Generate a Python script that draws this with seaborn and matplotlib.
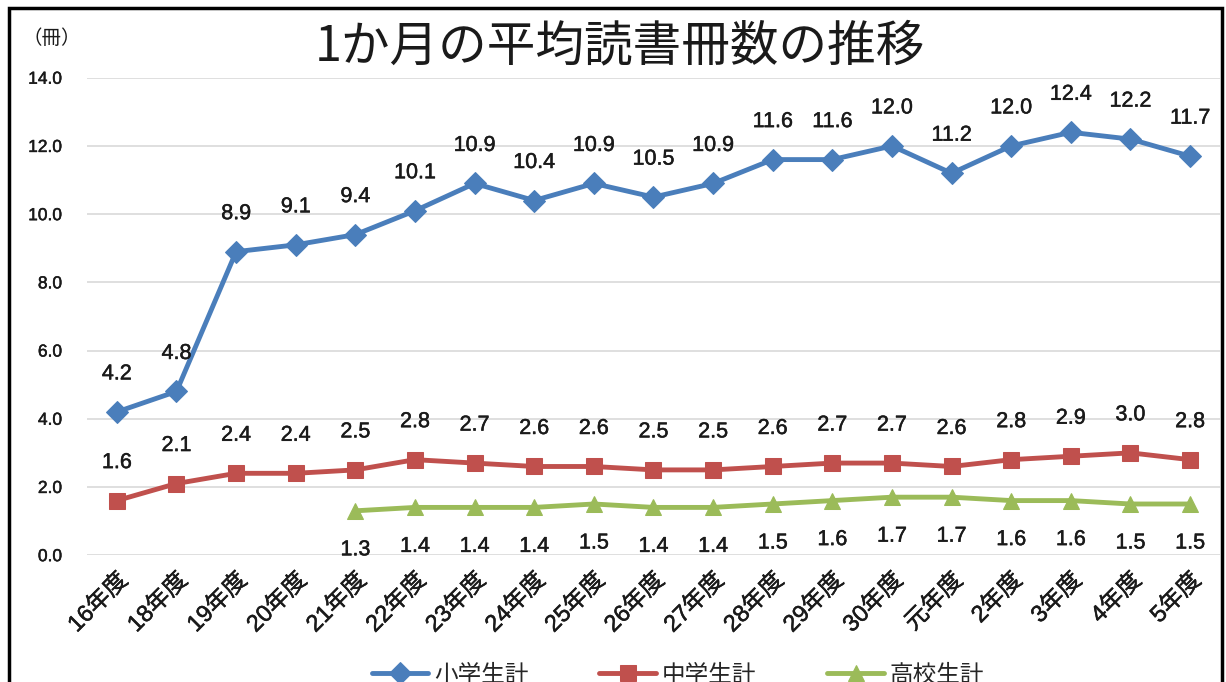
import numpy as np
import pandas as pd
import matplotlib
matplotlib.use("Agg")
import matplotlib.pyplot as plt
import matplotlib.patheffects as pe
import seaborn as sns
from matplotlib.patches import Rectangle

# Data
years = ["16年度", "18年度", "19年度", "20年度", "21年度", "22年度", "23年度", "24年度",
         "25年度", "26年度", "27年度", "28年度", "29年度", "30年度", "元年度", "2年度",
         "3年度", "4年度", "5年度"]
elementary = [4.2, 4.8, 8.9, 9.1, 9.4, 10.1, 10.9, 10.4, 10.9, 10.5, 10.9, 11.6, 11.6,
              12.0, 11.2, 12.0, 12.4, 12.2, 11.7]
junior_high = [1.6, 2.1, 2.4, 2.4, 2.5, 2.8, 2.7, 2.6, 2.6, 2.5, 2.5, 2.6, 2.7,
               2.7, 2.6, 2.8, 2.9, 3.0, 2.8]
high_school = [np.nan, np.nan, np.nan, np.nan, 1.3, 1.4, 1.4, 1.4, 1.5, 1.4, 1.4, 1.5,
               1.6, 1.7, 1.7, 1.6, 1.6, 1.5, 1.5]
series_names = ["小学生計", "中学生計", "高校生計"]

sns.set_style("white")
plt.rcParams['font.family'] = ['Noto Sans CJK JP', 'DejaVu Sans']
num_font = ['Liberation Sans', 'Noto Sans CJK JP']
ink = "#1a1a1a"
thick = [pe.withStroke(linewidth=0.35, foreground=ink)]

df = pd.DataFrame({"year": years, "x": range(len(years)),
                   series_names[0]: elementary, series_names[1]: junior_high,
                   series_names[2]: high_school})

fig = plt.figure(figsize=(12.26, 6.82), dpi=100)
ax = fig.add_axes([0.071, 0.186, 0.924, 0.700])

styles = [
    (series_names[0], "#4a7ebb", "D", 11, 38),
    (series_names[1], "#c0504d", "s", 11, 38),
    (series_names[2], "#9bbb59", "^", 12, -39),
]
for name, color, marker, ms, off in styles:
    sns.lineplot(data=df, x="x", y=name, ax=ax, color=color, marker=marker,
                 markersize=ms, markeredgecolor=color, linewidth=3.5, label=name)
    for xi, v in zip(df["x"], df[name]):
        if pd.isna(v):
            continue
        ax.annotate(f"{v:.1f}", (xi, v), xytext=(0, off), textcoords="offset pixels",
                    ha="center", va="center", fontsize=15.5, color=ink,
                    family=num_font, path_effects=thick)

ax.set_xlim(-0.5, len(years) - 0.5)
ax.set_ylim(0, 14)
ax.set_yticks(np.arange(0, 14.1, 2))
ax.set_yticklabels([f"{t:.1f}" for t in np.arange(0, 14.1, 2)], fontsize=12.5,
                   color=ink, family=num_font, path_effects=thick)
ax.set_xticks(range(len(years)))
ax.set_xticklabels(years, rotation=45, ha="right", rotation_mode="anchor",
                   fontsize=17, color=ink, family=num_font, path_effects=thick)
ax.tick_params(axis="y", length=0, pad=18)
ax.tick_params(axis="x", length=0, pad=10)
ax.set_xlabel("")
ax.set_ylabel("")
ax.yaxis.grid(True, color="#d9d9d9", linewidth=1.2)
ax.set_axisbelow(True)
for s in ax.spines.values():
    s.set_visible(False)

ax.get_legend().remove()
handles, labels = ax.get_legend_handles_labels()
fig.legend(handles, labels, loc="center", bbox_to_anchor=(0.553, 0.01), ncol=3,
           frameon=False, fontsize=17, handlelength=2.4, handletextpad=0.25,
           columnspacing=3.0)

fig.text(0.506, 0.932, "1か月の平均読書冊数の推移", ha="center", va="center",
         fontsize=35, color=ink)
fig.text(0.018, 0.944, "（冊）", ha="left", va="center", fontsize=14, color=ink)

fig.patches.append(Rectangle((0.007, -0.05), 0.99, 1.038, transform=fig.transFigure,
                             fill=False, edgecolor="black", linewidth=2.5))

fig.savefig("out.png", dpi=100)
